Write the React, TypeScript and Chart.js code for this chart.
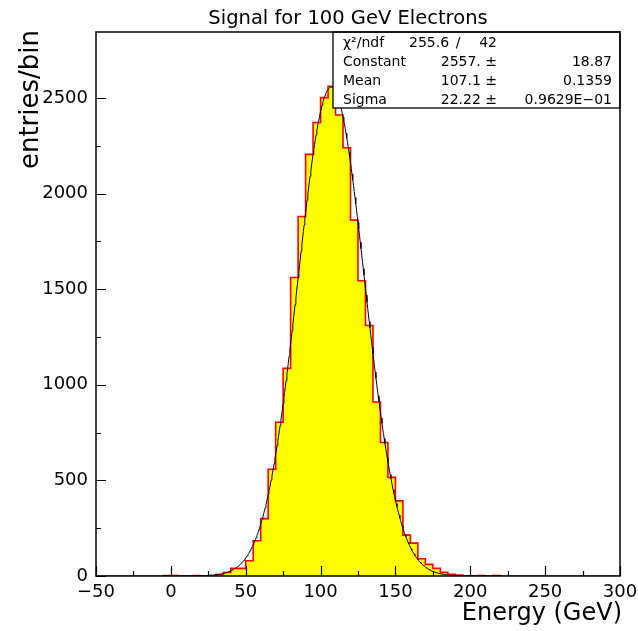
import { useEffect, useRef } from 'react';
import { Chart, registerables } from 'chart.js';

Chart.register(...registerables);

// Histogram: low edges of 5 GeV bins and entries per bin
const binLowEdges = [
  -5, 0, 5, 10, 15, 20, 25, 30, 35, 40, 45, 50, 55, 60, 65, 70, 75, 80, 85, 90,
  95, 100, 105, 110, 115, 120, 125, 130, 135, 140, 145, 150, 155, 160, 165, 170,
  175, 180, 185, 190, 195, 200, 205, 210, 215,
];
const binCounts = [
  2, 3, 0, 0, 2, 0, 3, 8, 18, 40, 40, 80, 184, 300, 558, 804, 1086, 1561, 1880, 2205,
  2371, 2502, 2561, 2411, 2240, 1861, 1544, 1310, 910, 698, 516, 393, 214, 172, 90, 61,
  40, 19, 9, 5, 0, 0, 2, 0, 2,
];
const binUpperEnd = 220;

// Gaussian fit parameters (as shown in the stats box)
const fitConstant = 2557;
const fitMean = 107.1;
const fitSigma = 22.22;

const xTickLabels = [-50, 0, 50, 100, 150, 200, 250, 300];
const yTickLabels = [0, 500, 1000, 1500, 2000, 2500];

const titleText = 'Signal for 100 GeV Electrons';
const xTitle = 'Energy (GeV)';
const yTitle = 'entries/bin';

const chi2Text = '255.6';
const ndfText = '42';
const statNames = ['Constant', 'Mean', 'Sigma'];
const statValues = ['2557. \u00b1', '107.1 \u00b1', '22.22 \u00b1'];
const statErrors = ['18.87', '0.1359', '0.9629E\u221201'];

const FONT = '"DejaVu Sans", sans-serif';

export default function App() {
  const ref = useRef<HTMLCanvasElement>(null);

  useEffect(() => {
    document.body.style.margin = '0';
    const canvas = ref.current!;

    const histData = [{ x: binLowEdges[0], y: 0 }]
      .concat(binLowEdges.map((x, i) => ({ x, y: binCounts[i] })))
      .concat([{ x: binUpperEnd, y: 0 }]);

    const fitData: { x: number; y: number }[] = [];
    for (let x = -50; x <= 300; x += 0.5) {
      const z = (x - fitMean) / fitSigma;
      fitData.push({ x, y: fitConstant * Math.exp(-0.5 * z * z) });
    }

    const decor = {
      id: 'decor',
      afterDraw(chart: any) {
        const ctx = chart.ctx;
        const a = chart.chartArea;
        const xs = chart.scales.x;
        const ys = chart.scales.y;
        ctx.save();
        // stats box
        const bx = 333, by = a.top, bw = a.right - 333, bh = 108 - a.top;
        ctx.fillStyle = '#ffffff';
        ctx.fillRect(bx, by, bw, bh);
        ctx.strokeStyle = '#000';
        ctx.lineWidth = 1.3;
        ctx.strokeRect(bx, by, bw, bh);
        ctx.fillStyle = '#000';
        ctx.font = `14px ${FONT}`;
        ctx.textBaseline = 'alphabetic';
        ctx.textAlign = 'left';
        ctx.fillText('\u03c7\u00b2/ndf', 343, 47);
        ctx.fillText(chi2Text, 409, 47);
        ctx.textAlign = 'center';
        ctx.fillText('/', 458, 47);
        ctx.textAlign = 'right';
        ctx.fillText(ndfText, 497, 47);
        statNames.forEach((n, i) => {
          const yy = 66 + i * 19;
          ctx.textAlign = 'left';
          ctx.fillText(n, 343, yy);
          ctx.textAlign = 'right';
          ctx.fillText(statValues[i], 497, yy);
          ctx.fillText(statErrors[i], 612, yy);
        });
        // frame
        ctx.lineWidth = 1.5;
        ctx.strokeRect(a.left, a.top, a.right - a.left, a.bottom - a.top);
        // inward ticks
        ctx.lineWidth = 1.2;
        ctx.beginPath();
        xs.ticks.forEach((t: any) => {
          if (t.value % 25 !== 0) return;
          const px = Math.round(xs.getPixelForValue(t.value)) + 0.5;
          const len = t.value % 50 === 0 ? 10 : 5;
          ctx.moveTo(px, a.bottom);
          ctx.lineTo(px, a.bottom - len);
        });
        ys.ticks.forEach((t: any) => {
          if (t.value % 250 !== 0) return;
          const py = Math.round(ys.getPixelForValue(t.value)) + 0.5;
          const len = t.value % 500 === 0 ? 10 : 5;
          ctx.moveTo(a.left, py);
          ctx.lineTo(a.left + len, py);
        });
        ctx.stroke();
        // titles
        ctx.fillStyle = '#000';
        ctx.font = `19.5px ${FONT}`;
        ctx.textAlign = 'center';
        ctx.fillText(titleText, 348, 24);
        ctx.font = `24px ${FONT}`;
        ctx.textAlign = 'right';
        ctx.fillText(xTitle, 622, 620);
        ctx.save();
        ctx.translate(38, 30);
        ctx.rotate(-Math.PI / 2);
        ctx.font = `26px ${FONT}`;
        ctx.textAlign = 'right';
        ctx.fillText(yTitle, 0, 0);
        ctx.restore();
        ctx.restore();
      },
    };

    const chart = new Chart(canvas, {
      type: 'line',
      data: {
        datasets: [
          {
            data: fitData,
            borderColor: '#000000',
            borderWidth: 1,
            pointRadius: 0,
            fill: false,
            tension: 0,
          },
          {
            data: histData,
            stepped: true,
            borderColor: '#ff0000',
            borderWidth: 1.6,
            backgroundColor: '#ffff00',
            fill: 'origin',
            pointRadius: 0,
          },
        ],
      },
      options: {
        animation: false,
        responsive: false,
        devicePixelRatio: 1,
        layout: { padding: { top: 32, right: 18, left: 0, bottom: 0 } },
        plugins: {
          legend: { display: false },
          tooltip: { enabled: false },
        },
        scales: {
          x: {
            type: 'linear',
            min: -50,
            max: 300,
            grid: { display: false, drawTicks: false },
            border: { display: false },
            ticks: {
              stepSize: 25,
              autoSkip: false,
              maxRotation: 0,
              padding: 6,
              color: '#000',
              font: { family: FONT, size: 18 },
              callback: (v: any) =>
                xTickLabels.includes(Number(v)) ? String(v).replace('-', '\u2212') : '',
            },
            afterFit: (s: any) => {
              s.height = 55;
              s.paddingLeft = 0;
              s.paddingRight = 0;
            },
          },
          y: {
            type: 'linear',
            min: 0,
            max: 2845,
            grid: { display: false, drawTicks: false },
            border: { display: false },
            ticks: {
              stepSize: 250,
              autoSkip: false,
              padding: 8,
              color: '#000',
              font: { family: FONT, size: 18 },
              callback: (v: any) => (yTickLabels.includes(Number(v)) ? String(v) : ''),
            },
            afterFit: (s: any) => {
              s.width = 96;
              s.paddingTop = 0;
              s.paddingBottom = 0;
            },
          },
        },
      },
      plugins: [decor],
    });
    return () => chart.destroy();
  }, []);

  return (
    <div style={{ width: 638, height: 631 }}>
      <canvas ref={ref} width={638} height={631} style={{ display: 'block' }} />
    </div>
  );
}
